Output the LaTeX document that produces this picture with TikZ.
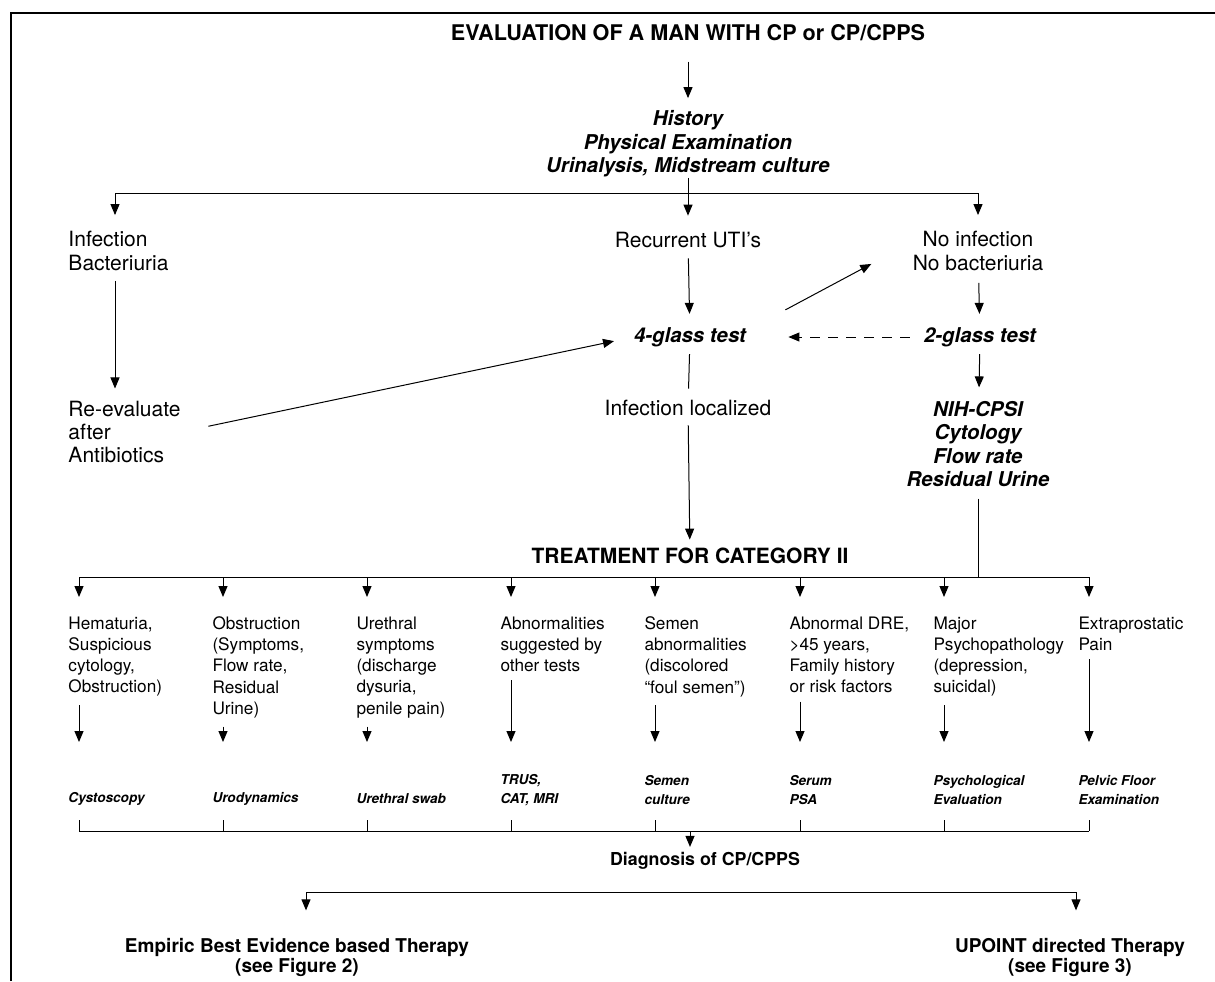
\documentclass[tikz,border=0pt]{standalone}
\usepackage{fontspec}
\setmainfont{TeX Gyre Heros}
\usetikzlibrary{arrows.meta}
\tikzset{
  arr/.style={-{Triangle[length=5.5pt,width=4.5pt]}},
  plain/.style={font=\fontsize{10.5}{11.6}\selectfont,align=left},
  crit/.style={font=\fontsize{8.6}{10.65}\selectfont,align=left,anchor=north west},
  bit/.style={font=\fontsize{10.2}{11.8}\selectfont\bfseries\itshape,align=center},
  testname/.style={font=\fontsize{6.8}{9.5}\selectfont\bfseries\itshape,align=left,anchor=west},
  head/.style={font=\fontsize{10.8}{12}\selectfont\bfseries},
  fin/.style={font=\fontsize{9.5}{10}\selectfont\bfseries,align=center}
}
\begin{document}
\begin{tikzpicture}[x=0.5pt,y=-0.5pt,line width=0.5pt]
\tikzstyle{every node}+=[inner sep=0pt]
\useasboundingbox (0,0) rectangle (1215,981);
\draw [line width=1pt] (11,981) -- (11,13) -- (1215,13);
\node [head] (eval) at (688,33) {EVALUATION OF A MAN WITH CP or CP/CPPS};
\node [bit] (hist) at (688,144) {History\\Physical Examination\\Urinalysis, Midstream culture};
\draw [arr,shorten <=10pt,shorten >=6pt] (eval) -- (hist);
\coordinate (bl) at (115,193);
\coordinate (br) at (978,193);
\draw (hist) -- (hist |- bl);
\draw (bl) -- (br);
\node [plain,anchor=west] (inf) at (68,251) {Infection\\Bacteriuria};
\node [plain] (uti) at (688,240) {Recurrent UTI’s};
\node [plain,align=center] (noinf) at (978,251) {No infection\\No bacteriuria};
\draw [arr,shorten >=8pt] (bl) -- (bl |- inf.north);
\draw [arr,shorten >=8pt] (hist |- bl) -- (uti);
\draw [arr,shorten >=8pt] (br) -- (noinf);
\node [bit] (g4) at (690,337) {4-glass test};
\node [bit] (g2) at (980,337) {2-glass test};
\draw [arr,shorten <=5pt,shorten >=6.5pt] (uti) -- (g4);
\draw [arr,shorten <=6pt,shorten >=6.5pt] (noinf) -- (g2);
\draw [arr,dash pattern=on 5pt off 4pt,shorten <=7pt,shorten >=21pt] (g2) -- (g4);
\draw [arr] ([shift={(19.5pt,8.5pt)}]g4.north east) -- ([shift={(-20.5pt,3.5pt)}]noinf.south west);
\node [plain,anchor=west] (reev) at (68,432) {Re-evaluate\\after\\Antibiotics};
\draw [arr,shorten <=5pt,shorten >=6pt] (inf.south -| bl) -- (reev.north -| bl);
\draw [arr,shorten <=14pt,shorten >=10pt] (reev.east) -- (g4.west);
\node [plain] (loc) at (688,408) {Infection localized};
\draw [shorten <=3.5pt,shorten >=5.5pt] (g4) -- (loc);
\node [bit,align=center] (nih) at (978,444) {NIH-CPSI\\Cytology\\Flow rate\\Residual Urine};
\draw [arr,shorten <=3.5pt,shorten >=6.5pt] (g2) -- (nih);
\node [head,font=\fontsize{10.5}{12}\selectfont\bfseries] (cat2) at (690,556) {TREATMENT FOR CATEGORY II};
\draw [arr,shorten <=4.5pt,shorten >=4pt] (loc) -- (cat2);
\coordinate (k1) at (79,577);
\coordinate (k2) at (223,577);
\coordinate (k3) at (367,577);
\coordinate (k4) at (511,577);
\coordinate (k5) at (655,577);
\coordinate (k6) at (800,577);
\coordinate (k7) at (944,577);
\coordinate (k8) at (1089,577);
\coordinate (ar) at (0,742);
\draw (k1) -- (k8);
\draw [shorten <=5.5pt] (nih) -- (nih |- k1);
\node [crit] (c1) at (68,616) {Hematuria,\\Suspicious\\cytology,\\Obstruction)};
\node [crit] (c2) at (212,616) {Obstruction\\(Symptoms,\\Flow rate,\\Residual\\Urine)};
\node [crit] (c3) at (356,616) {Urethral\\symptoms\\(discharge\\dysuria,\\penile pain)};
\node [crit] (c4) at (500,616) {Abnormalities\\suggested by\\other tests};
\node [crit] (c5) at (644,616) {Semen\\abnormalities\\(discolored\\“foul semen”)};
\node [crit] (c6) at (789,616) {Abnormal DRE,\\>45 years,\\Family history\\or risk factors};
\node [crit] (c7) at (933,616) {Major\\Psychopathology\\(depression,\\suicidal)};
\node [crit] (c8) at (1078,616) {Extraprostatic\\Pain};
\draw [arr,shorten >=9.5pt] (k1) -- (c1.north -| k1);
\draw [arr,shorten >=9.5pt] (k2) -- (c2.north -| k2);
\draw [arr,shorten >=9.5pt] (k3) -- (c3.north -| k3);
\draw [arr,shorten >=9.5pt] (k4) -- (c4.north -| k4);
\draw [arr,shorten >=9.5pt] (k5) -- (c5.north -| k5);
\draw [arr,shorten >=9.5pt] (k6) -- (c6.north -| k6);
\draw [arr,shorten >=9.5pt] (k7) -- (c7.north -| k7);
\draw [arr,shorten >=9.5pt] (k8) -- (c8.north -| k8);
\draw [arr,shorten <=4pt] (c1.south -| k1) -- (k1 |- ar);
\draw [arr,shorten <=4pt] (c2.south -| k2) -- (k2 |- ar);
\draw [arr,shorten <=4pt] (c3.south -| k3) -- (k3 |- ar);
\draw [arr,shorten <=4pt] (c4.south -| k4) -- (k4 |- ar);
\draw [arr,shorten <=4pt] (c5.south -| k5) -- (k5 |- ar);
\draw [arr,shorten <=4pt] (c6.south -| k6) -- (k6 |- ar);
\draw [arr,shorten <=4pt] (c7.south -| k7) -- (k7 |- ar);
\draw [arr,shorten <=4pt] (c8.south -| k8) -- (k8 |- ar);
\node [testname] (t1) at (68,799) {Cystoscopy};
\node [testname] (t2) at (212,799) {Urodynamics};
\node [testname] (t3) at (356,799) {Urethral swab};
\node [testname] (t4) at (500,790) {TRUS,\\CAT, MRI};
\node [testname] (t5) at (644,790) {Semen\\culture};
\node [testname] (t6) at (789,790) {Serum\\PSA};
\node [testname] (t7) at (933,790) {Psychological\\Evaluation};
\node [testname] (t8) at (1078,790) {Pelvic Floor\\Examination};
\coordinate (q1) at (79,831);
\coordinate (q8) at (1089,831);
\coordinate (q0) at (690,831);
\draw (q1) -- (q8);
\draw (q1) -- ++(0,-11);
\draw (k2 |- q1) -- ++(0,-11);
\draw (k3 |- q1) -- ++(0,-11);
\draw (k4 |- q1) -- ++(0,-11);
\draw (k5 |- q1) -- ++(0,-11);
\draw (k6 |- q1) -- ++(0,-11);
\draw (k7 |- q1) -- ++(0,-11);
\draw (q8) -- ++(0,-11);
\node [fin,font=\fontsize{8.9}{10}\selectfont\bfseries] (diag) at (705,861) {Diagnosis of CP/CPPS};
\draw [arr,shorten >=2.5pt] (q0) -- (q0 |- diag.north);
\coordinate (d1) at (306,892);
\coordinate (d2) at (1076,892);
\draw (d1) -- (d2);
\node [fin] (emp) at (297,957) {Empiric Best Evidence based Therapy\\(see Figure 2)};
\node [fin] (upo) at (1070,957) {UPOINT directed Therapy\\(see Figure 3)};
\draw [arr,shorten >=13.5pt] (d1) -- (d1 |- emp.north);
\draw [arr,shorten >=13.5pt] (d2) -- (d2 |- upo.north);
\end{tikzpicture}
\end{document}
